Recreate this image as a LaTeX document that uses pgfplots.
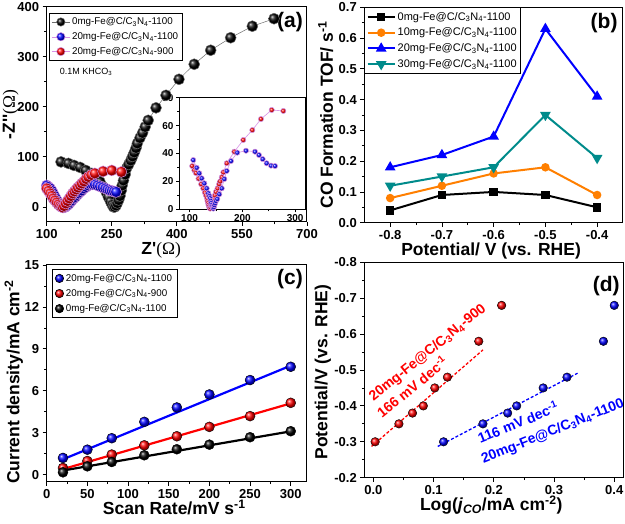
\documentclass[border=0pt]{standalone}
\usepackage{pgfplots}
\pgfplotsset{compat=1.18}
\usepackage{fontspec}
\setmainfont{Liberation Sans}
\newfontfamily\serif{Liberation Serif}
\definecolor{myorange}{RGB}{255,127,0}
\definecolor{myteal}{RGB}{0,139,139}
\definecolor{myviolet}{RGB}{215,145,230}
\definecolor{mygray}{RGB}{110,110,110}
\newcommand{\tfont}{\fontsize{13}{15}\selectfont\bfseries}
\newcommand{\lfont}{\fontsize{17.5}{20}\selectfont\bfseries}
\newcommand{\pfont}{\fontsize{21}{24}\selectfont\bfseries}
\newcommand{\CN}{C/C\textsubscript{3}N\textsubscript{4}}
\newcommand{\pr}{\textquotesingle}
\pgfplotsset{
  base/.style={
    scale only axis,
    anchor=north west,
    axis line style={line width=1pt},
    tick style={line width=0.8pt, black},
    tick align=outside,
    tick pos=left,
    major tick length=4pt,
    minor tick length=2.5pt,
    minor tick num=1,
    tick label style={font=\tfont},
    /pgf/number format/assume math mode=true,
    xlabel style={font=\lfont, anchor=base},
    ylabel style={font=\lfont, anchor=base},
  },
  onedec/.style={/pgf/number format/.cd, fixed, fixed zerofill, precision=1},
}
\begin{document}
\begin{tikzpicture}
\useasboundingbox (0pt,0pt) rectangle (625pt,524pt);
% ---------- inset of (a)
\begin{axis}[base, at={(179pt,426.3pt)}, width=126.7pt, height=111.6pt,
  xmin=80, xmax=320, ymin=0, ymax=80,
  xtick={100,200,300}, ytick={0,20,40,60,80},
  tick label style={font=\fontsize{10}{12}\selectfont\bfseries},
  axis line style={line width=0.7pt}, major tick length=3pt, minor tick length=2pt,
  xticklabel style={yshift=1pt}, yticklabel style={xshift=1pt}]
\addplot[myviolet, line width=0.6pt, mark=ball, mark size=2.6pt, mark options={ball color=red}] coordinates {
(105,31)(109,28)(112,26)(117,22)(122,18)(126,15)(129,12)(131,10)(133,8)(134,6)(135,4.5)(136,3)(137,2)(138,1)(139,0.5)(140,1.5)(141,3)(142,4.5)(143,5.5)(145,7.5)(148,10)(150,12.5)(153,15)(156,18)(158,20)(161,23)(164,26.5)(170.4,33)(184.8,41.3)(201.8,49.7)(218.9,56.8)(235.3,64.7)(255.6,71.2)(277.6,70.5)};
\addplot[myviolet, line width=0.6pt, mark=ball, mark size=2.6pt, mark options={ball color=blue}] coordinates {
(107,35.3)(113.5,29.8)(118.5,25.8)(123,22.2)(128,18.6)(132.5,15)(135.5,11.5)(137.5,9.5)(138.7,7.9)(140,6)(141,4.5)(142,3)(143,1.9)(144,1)(145,0.5)(146,1.5)(147,3)(148.2,4.3)(150,6)(152.6,7.4)(156.4,10.8)(161,15)(165.9,21.7)(170.4,27.5)(178.5,34.6)(190.4,40.6)(206.9,42)(224,41.3)(231.5,38.9)(238.5,36)(246,33)(254.3,31.3)(261.9,31)};
\end{axis}
% ---------- (a)
\begin{axis}[base, at={(46.7pt,517.3pt)}, width=260.3pt, height=215.3pt,
  xmin=100, xmax=700, ymin=-30, ymax=400,
  xtick={100,250,400,550,700}, ytick={0,100,200,300,400},
  xlabel={Z\pr{\serif\mdseries(Ω)}}, ylabel={-Z\pr\pr{\serif\mdseries(Ω)}},
  xlabel style={at={(axis description cs:0.44,-0.152)}},
  ylabel style={at={(axis description cs:-0.122,0.5)}},
  legend style={at={(axis description cs:0.01,0.969)}, anchor=north west,
    font=\fontsize{9.8}{11}\selectfont, draw=black, line width=0.6pt,
    inner xsep=2pt, inner ysep=2pt, row sep=2.2pt, cells={anchor=west}},
  legend image code/.code={\draw[mark repeat=2,mark phase=2,mark size=4.2pt] plot coordinates {(0pt,0pt)(9pt,0pt)(18pt,0pt)};}]
\addplot[mygray, line width=0.5pt, mark=ball, mark size=5.5pt, mark options={ball color=black}] coordinates {
(133,90)(150,87)(163,83)(177,79)(190,73)(204,67)(215,60)(223,50)(230,40)(237,30)(242,20)(247,11)(251,4)(254,0)(257,0)(260,3)(263,8)(266,14)(269,22)(272,33)(274,43)(277,53)(281,65)(284,77)(289,85)(294,93)(298,101)(302,109)(306,118)(309,127)(315,138)(321,148)(327,160)(334,173)(352,198)(375,223)(405,255)(440,285)(478,313)(524,338)(574,361)(624,376)};
\addlegendentry{0mg-Fe@\CN-1100}
\addplot[myviolet, line width=0.5pt, mark=ball, mark size=5.5pt, mark options={ball color=blue}] coordinates {
(100,43)(104,40)(108,37)(112,32)(115,27)(118,22)(121,17)(124,12)(127,8)(131,4)(135,1)(139,-1)(143,0)(147,3)(151,6)(155,10)(158,13)(162,17)(166,20)(170,24)(173,27)(177,30)(181,33)(186,37)(191,40)(196,43)(201,45)(206,45)(211,45)(217,43)(223,41)(229,39)(235,37)(240,35)(245,33)(250,32)(255,31)(260,30)};
\addlegendentry{20mg-Fe@\CN-1100}
\addplot[myviolet, line width=0.5pt, mark=ball, mark size=5.5pt, mark options={ball color=red}] coordinates {
(100,37)(104,32)(108,27)(112,22)(115,17)(119,13)(123,9)(127,5)(131,2)(134,0)(137,-1)(140,2)(144,7)(148,12)(152,17)(156,22)(160,27)(164,31)(168,35)(172,39)(177,43)(181,47)(186,51)(191,56)(196,60)(203,64)(211,67)(230,71)(250,73)(272,70)};
\addlegendentry{20mg-Fe@\CN-900}
\node[font=\fontsize{9}{11}\selectfont] at (axis description cs:0.151,0.697) {0.1M KHCO\textsubscript{3}};
\node[font=\pfont] at (axis description cs:0.935,0.929) {(a)};
\end{axis}
% ---------- (b)
\begin{axis}[base, at={(364.3pt,516.7pt)}, width=258.7pt, height=215.4pt,
  xmin=-0.85, xmax=-0.35, ymin=0, ymax=0.7,
  xtick={-0.8,-0.7,-0.6,-0.5,-0.4}, ytick={0,0.1,0.2,0.3,0.4,0.5,0.6,0.7},
  xticklabel style={onedec}, yticklabel style={onedec},
  xlabel={Potential/ V (vs. RHE)}, ylabel={CO Formation TOF/ s\textsuperscript{-1}},
  xlabel style={at={(axis description cs:0.49,-0.152)}},
  ylabel style={at={(axis description cs:-0.121,0.5)}},
  legend style={at={(axis description cs:0,1)}, anchor=north west,
    font=\fontsize{11}{13}\selectfont, draw=black, line width=0.8pt,
    inner xsep=2pt, inner ysep=2.5pt, row sep=2.3pt, cells={anchor=west}},
  legend image code/.code={\draw[mark repeat=2,mark phase=2] plot coordinates {(0pt,0pt)(13.5pt,0pt)(27pt,0pt)};}]
\addplot[black, line width=2pt, mark=square*, mark size=3.2pt] coordinates {(-0.8,0.04)(-0.7,0.09)(-0.6,0.10)(-0.5,0.09)(-0.4,0.05)};
\addlegendentry{0mg-Fe@\CN-1100}
\addplot[myorange, line width=2pt, mark=*, mark size=3.2pt] coordinates {(-0.8,0.08)(-0.7,0.12)(-0.6,0.16)(-0.5,0.18)(-0.4,0.09)};
\addlegendentry{10mg-Fe@\CN-1100}
\addplot[blue, line width=2pt, mark=triangle*, mark size=4.2pt] coordinates {(-0.8,0.18)(-0.7,0.22)(-0.6,0.28)(-0.5,0.63)(-0.4,0.41)};
\addlegendentry{20mg-Fe@\CN-1100}
\addplot[myteal, line width=2pt, mark=triangle*, mark size=4.2pt, mark options={rotate=180}] coordinates {(-0.8,0.12)(-0.7,0.15)(-0.6,0.18)(-0.5,0.35)(-0.4,0.21)};
\addlegendentry{30mg-Fe@\CN-1100}
\node[font=\pfont] at (axis description cs:0.927,0.927) {(b)};
\end{axis}
% ---------- (c)
\begin{axis}[base, at={(46.7pt,259pt)}, width=260.3pt, height=216.7pt,
  xmin=0, xmax=320, ymin=-0.5, ymax=15,
  xtick={0,50,100,150,200,250,300}, ytick={0,3,6,9,12,15},
  xlabel={Scan Rate/mV s\textsuperscript{-1}}, ylabel={Current density/mA cm\textsuperscript{-2}},
  xlabel style={at={(axis description cs:0.49,-0.152)}},
  ylabel style={at={(axis description cs:-0.105,0.46)}},
  legend style={at={(axis description cs:0.019,0.98)}, anchor=north west,
    font=\fontsize{9.8}{11}\selectfont, draw=black, line width=0.6pt,
    inner xsep=3pt, inner ysep=2.5pt, row sep=2.5pt, cells={anchor=west}},
  legend image code/.code={\draw[mark size=4.2pt] plot coordinates {(9pt,0pt)};}]
\addplot[blue, line width=2.2pt, forget plot] coordinates {(20,1.1)(300,7.8)};
\addplot[red, line width=2.2pt, forget plot] coordinates {(20,0.4)(300,5.1)};
\addplot[black, line width=2.2pt, forget plot] coordinates {(20,0.3)(300,3.1)};
\addplot[only marks, mark=ball, mark size=5pt, mark options={ball color=blue}] coordinates {(20,1.2)(50,1.79)(80,2.61)(120,3.78)(160,4.81)(200,5.74)(250,6.77)(300,7.72)};
\addlegendentry{20mg-Fe@\CN-1100}
\addplot[only marks, mark=ball, mark size=5pt, mark options={ball color=red}] coordinates {(20,0.48)(50,0.98)(80,1.44)(120,2.1)(160,2.75)(200,3.42)(250,4.19)(300,5.14)};
\addlegendentry{20mg-Fe@\CN-900}
\addplot[only marks, mark=ball, mark size=5pt, mark options={ball color=black}] coordinates {(20,0.17)(50,0.6)(80,0.91)(120,1.39)(160,1.82)(200,2.15)(250,2.68)(300,3.11)};
\addlegendentry{0mg-Fe@\CN-1100}
\node[font=\pfont] at (axis description cs:0.935,0.935) {(c)};
\end{axis}
% ---------- (d)
\begin{axis}[base, at={(364.3pt,261.7pt)}, width=259pt, height=215.4pt,
  xmin=-0.015, xmax=0.415, ymin=-0.8, ymax=-0.2, y dir=reverse,
  xtick={0,0.1,0.2,0.3,0.4}, ytick={-0.8,-0.7,-0.6,-0.5,-0.4,-0.3,-0.2},
  xticklabel style={onedec}, yticklabel style={onedec},
  xlabel={Log(\textit{j}\textsubscript{\textit{CO}}/mA cm\textsuperscript{-2})},
  ylabel={Potential/V (vs. RHE)},
  xlabel style={at={(axis description cs:0.49,-0.152)}},
  ylabel style={at={(axis description cs:-0.143,0.49)}}]
\addplot[red, line width=1.3pt, dash pattern=on 3pt off 2pt] coordinates {(-0.003,-0.287)(0.182,-0.556)};
\addplot[blue, line width=1.3pt, dash pattern=on 3pt off 2pt] coordinates {(0.107,-0.287)(0.339,-0.491)};
\addplot[only marks, mark=ball, mark size=4.3pt, mark options={ball color=red}] coordinates {(0.003,-0.30)(0.0425,-0.35)(0.065,-0.38)(0.083,-0.40)(0.102,-0.45)(0.123,-0.48)(0.175,-0.58)(0.213,-0.68)};
\addplot[only marks, mark=ball, mark size=4.3pt, mark options={ball color=blue}] coordinates {(0.1166,-0.30)(0.182,-0.35)(0.223,-0.38)(0.238,-0.40)(0.282,-0.45)(0.3215,-0.48)(0.382,-0.58)(0.400,-0.68)};
\node[font=\fontsize{14}{16}\selectfont\bfseries, text=red, rotate=39, inner sep=0pt] at (axis cs:0.0905,-0.547) {20mg-Fe@\CN-900};
\node[font=\fontsize{14}{16}\selectfont\bfseries, text=red, rotate=39, inner sep=0pt] at (axis cs:0.064,-0.4535) {166 mV dec\textsuperscript{-1}};
\node[font=\fontsize{14}{16}\selectfont\bfseries, text=blue, rotate=22, inner sep=0pt] at (axis cs:0.24,-0.355) {116 mV dec\textsuperscript{-1}};
\node[font=\fontsize{14}{16}\selectfont\bfseries, text=blue, rotate=22, inner sep=0pt] at (axis cs:0.298,-0.328) {20mg-Fe@\CN-1100};
\node[font=\pfont] at (axis description cs:0.934,0.89) {(d)};
\end{axis}
\end{tikzpicture}
\end{document}
